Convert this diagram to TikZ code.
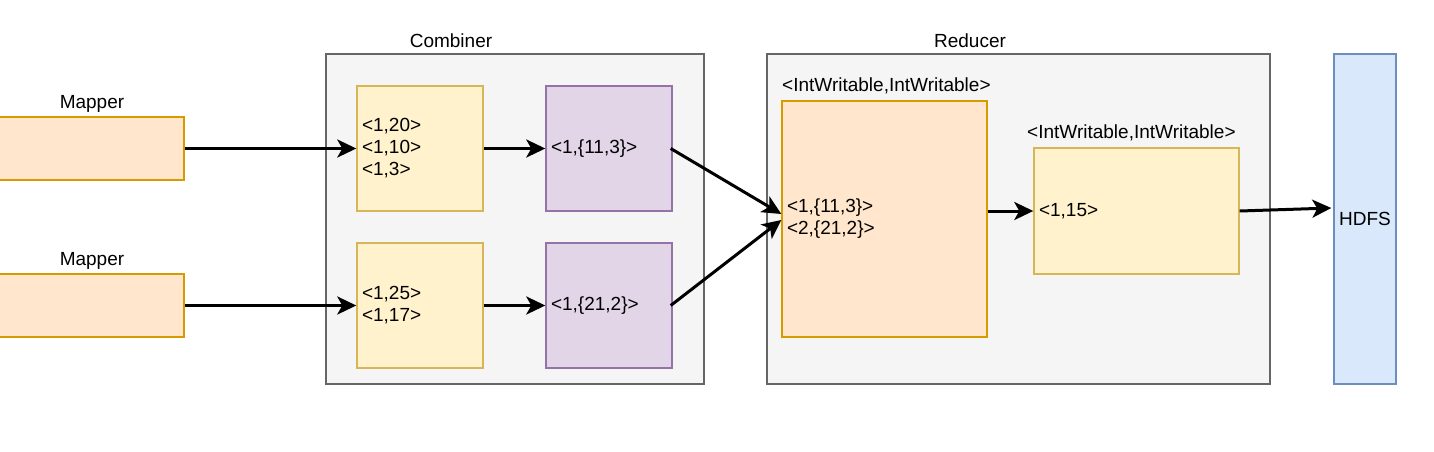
\documentclass[tikz,border=0pt]{standalone}
\usepackage{fontspec}
\setmainfont{Liberation Sans}
\usetikzlibrary{arrows.meta}
\definecolor{orfill}{HTML}{FFE6CC}
\definecolor{ordraw}{HTML}{D79B00}
\definecolor{yefill}{HTML}{FFF2CC}
\definecolor{yedraw}{HTML}{D6B656}
\definecolor{pufill}{HTML}{E1D5E7}
\definecolor{pudraw}{HTML}{9673A6}
\definecolor{grfill}{HTML}{F5F5F5}
\definecolor{grdraw}{HTML}{666666}
\definecolor{blfill}{HTML}{DAE8FC}
\definecolor{bldraw}{HTML}{6C8EBF}
\tikzset{
  base/.style={rectangle, line width=1.4pt, inner ysep=0pt, inner xsep=5pt, align=left,
    font=\fontsize{19}{22}\selectfont},
  mapbox/.style={base, fill=orfill, draw=ordraw},
  yebox/.style={base, fill=yefill, draw=yedraw},
  pubox/.style={base, fill=pufill, draw=pudraw},
  contbox/.style={base, fill=grfill, draw=grdraw},
  hdfsbox/.style={base, fill=blfill, draw=bldraw, align=center, inner xsep=0pt},
  lbl/.style={inner sep=0pt, font=\fontsize{19}{22}\selectfont},
  conn/.style={line width=3pt, -{Stealth[length=19pt, width=18pt, inset=5pt]}}
}
\begin{document}
\begin{tikzpicture}[x=1pt, y=-1pt]
\clip (0,0) rectangle (1434,451);
\fill[white] (0,0) rectangle (1434,451);
% containers
\node[contbox, minimum width=378pt, minimum height=330pt] (comb) at (515,219) {};
\node[lbl] (combl) at (451,41) {Combiner};
\node[contbox, minimum width=503pt, minimum height=330pt] (red) at (1018.5,219) {};
\node[lbl] (redl) at (970,41) {Reducer};
% mappers
\node[mapbox, minimum width=194pt, minimum height=63pt] (m1) at (87,148.5) {};
\node[lbl] (m1l) at (92,104) {Mapper};
\node[mapbox, minimum width=194pt, minimum height=63pt] (m2) at (87,305.5) {};
\node[lbl] (m2l) at (92,261) {Mapper};
% combiner inner boxes
\node[yebox, text width=116pt, minimum height=125pt] (y1) at (420,148.5) {<1,20>\\<1,10>\\<1,3>};
\node[yebox, text width=116pt, minimum height=125pt] (y2) at (420,305.5) {<1,25>\\<1,17>};
\node[pubox, text width=116pt, minimum height=125pt] (p1) at (609,148.5) {<1,\{11,3\}>};
\node[pubox, text width=116pt, minimum height=125pt] (p2) at (609,305.5) {<1,\{21,2\}>};
% reducer inner boxes
\node[mapbox, text width=195pt, minimum height=236pt] (o) at (884.5,219) {<1,\{11,3\}>\\<2,\{21,2\}>};
\node[lbl, anchor=west] (ol) at (782,86) {<IntWritable,IntWritable>};
\node[yebox, text width=195pt, minimum height=126pt] (y3) at (1136.5,211) {<1,15>};
\node[lbl, anchor=west] (y3l) at (1027,133) {<IntWritable,IntWritable>};
% HDFS
\node[hdfsbox, minimum width=62pt, minimum height=330pt] (hdfs) at (1365,219) {HDFS};
% connectors
\draw[conn] (m1.east) -- (y1.west);
\draw[conn] (m2.east) -- (y2.west);
\draw[conn] (y1.east) -- (p1.west);
\draw[conn] (y2.east) -- (p2.west);
\draw[conn] ([xshift=-2pt]p1.east) -- ([yshift=5pt]o.west);
\draw[conn] ([xshift=-2pt]p2.east) -- ([yshift=-1pt]o.west);
\draw[conn] (o.east |- y3.west) -- (y3.west);
\draw[conn] (y3.east) -- ([xshift=-2pt, yshift=11pt]hdfs.west);
\end{tikzpicture}
\end{document}
